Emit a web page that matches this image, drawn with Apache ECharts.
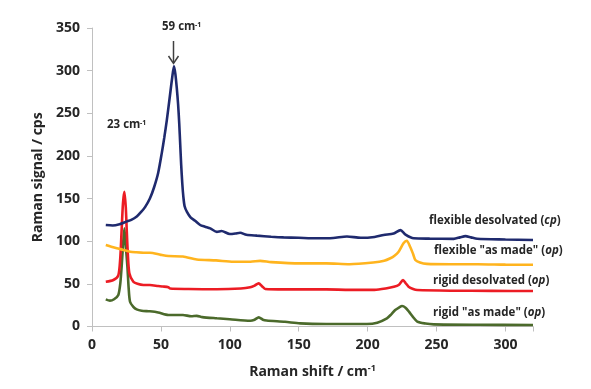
<!DOCTYPE html>
<html>
<head>
<meta charset="utf-8">
<script src="https://cdn.jsdelivr.net/npm/echarts@6/dist/echarts.min.js"></script>
<style>
html,body{margin:0;padding:0;background:#fff;}
#chart{width:591px;height:389px;}
</style>
</head>
<body>
<div id="chart"></div>
<script>
// Raman shift (cm-1), Raman signal (cps)
var flexibleDesolvated = [[10,119],[15,118.5],[20,120],[25,123],[28.5,125],[32.5,129],[35.5,134],[38.5,140],[42,150],[45,163],[48,180],[50.6,203],[52.5,222],[54.3,242],[56.5,270],[58.2,292],[59.5,305],[60.5,296],[61.5,280],[62.5,260],[63.3,238],[64,214],[64.7,190],[65.5,168],[66.3,152],[67.2,141],[69,134],[71.5,128],[74.8,124],[78.5,119],[82,117],[85.8,115],[90.6,111],[94,112],[100,108.4],[104,109],[107.5,110],[112,107.5],[119.7,106.5],[130,105.3],[139,104.5],[150,104],[163,103.4],[175,103.8],[185,105.5],[195,104],[205,105],[211.6,107.3],[218.9,109],[223.8,113],[227.5,107.8],[233.4,103.4],[245,103],[262.5,102.8],[267,104.5],[271,106],[275,104.5],[279.5,102.8],[300,102],[320,101.4]];
var flexibleAsMade = [[10,95.5],[14,93.5],[18,91.7],[22.8,89.8],[27.6,87.7],[32,87],[37.3,86.5],[42,86.5],[50,84],[55.4,82.6],[66,82],[76,78.5],[90,77.5],[102.6,76],[115,76],[122,77],[130,75.5],[151,74],[170,74],[187,73],[204,75],[212,77],[216.5,80],[219.5,83],[222.5,87.7],[226,97.5],[228.4,100.6],[231,93],[233,85],[234.6,78],[238,75],[243,73.4],[260,73],[280,73],[300,72.5],[320,72.4]];
var rigidDesolvated = [[10,52.5],[15.5,54.5],[19.1,60],[20.5,80],[21.5,113],[22.5,145],[23.5,158],[24.5,140],[25.2,113],[26,85],[27.1,62.5],[30,52.5],[33,50],[37.3,48.6],[42,48.6],[48,47.5],[51.6,46.9],[55.4,46],[56.7,44.5],[70,44],[90.6,43.6],[108,44.5],[114.8,46],[118,48],[120.9,50.6],[123.5,47],[125.7,44],[140,43.5],[170,43.5],[187,43],[205,43],[214,44.8],[219,46.5],[222.5,48.6],[225.7,54.5],[227.5,51],[229.7,46.7],[233,44],[236,42.8],[260,42],[290,41.8],[320,41.6]];
var rigidAsMade = [[10,31.8],[13,30.3],[16,32],[19.1,37],[20.5,50],[21.5,70],[22.5,95],[23.5,115],[24.5,95],[25.7,70],[26.6,45],[27.6,29],[30,23],[32.4,20],[36,18.5],[42,17.8],[48,16.5],[55.4,13.5],[60,13.5],[66,13.5],[72,12],[76,12.5],[80,11],[90.6,9.6],[100,8.5],[114.8,6.8],[118,8],[121,10.7],[124,8],[126.7,7],[140,5.5],[151,3.7],[170,3],[187,3],[199.5,2.9],[207,4.5],[214,9.6],[217,14],[220,19.3],[223,22.5],[225,24],[227.5,22],[230,17.4],[233,11],[236,5.7],[242,3.5],[248,2.5],[280,2],[320,1.8]];

var seriesNames = ['flexible desolvated (cp)', 'flexible "as made" (op)', 'rigid desolvated (op)', 'rigid "as made" (op)'];
var seriesLabelParts = [['flexible desolvated (', 'cp', ')'], ['flexible "as made" (', 'op', ')'], ['rigid desolvated (', 'op', ')'], ['rigid "as made" (', 'op', ')']];
var seriesColors = ['#1f2a6e', '#ffb41e', '#ec1c24', '#4b6a2b'];
var xTicks = [0, 50, 100, 150, 200, 250, 300];
var yTicks = [0, 50, 100, 150, 200, 250, 300, 350];

var chart = echarts.init(document.getElementById('chart'), null, {renderer: 'canvas'});
var FONT = '"Open Sans", "DejaVu Sans", sans-serif';
var dataSets = [flexibleDesolvated, flexibleAsMade, rigidDesolvated, rigidAsMade];

function mkSeries(i) {
  return {
    type: 'line', name: seriesNames[i], data: dataSets[i],
    showSymbol: false, smooth: 0.25,
    lineStyle: {color: seriesColors[i], width: 2.6},
    itemStyle: {color: seriesColors[i]},
    z: 10 - i
  };
}

var richLbl = {
  n: {fontFamily: FONT, fontWeight: 'bold', fontSize: 11.5, fill: '#262626', color: '#262626'},
  i: {fontFamily: FONT, fontWeight: 'bold', fontStyle: 'italic', fontSize: 11.5, fill: '#262626', color: '#262626'}
};
function seriesLabel(i, left, top) {
  var p = seriesLabelParts[i];
  return {type: 'text', left: left, top: top,
    style: {text: '{n|' + p[0] + '}{i|' + p[1] + '}{n|' + p[2] + '}', rich: richLbl}};
}

chart.setOption({
  animation: false,
  backgroundColor: '#ffffff',
  grid: {left: 92, right: 58, top: 28, bottom: 62.5, containLabel: false},
  xAxis: {
    type: 'value', min: 0, max: 320, interval: 50,
    name: 'Raman shift / cm{sup|-1}', nameLocation: 'middle', nameGap: 37,
    nameTextStyle: {fontFamily: FONT, fontWeight: 'bold', fontSize: 14, color: '#262626',
      rich: {sup: {fontSize: 9, fontWeight: 'bold', fontFamily: FONT, color: '#262626', verticalAlign: 'top', padding: [0,0,8,0]}}},
    axisLine: {lineStyle: {color: '#c0c0c0', width: 1}},
    axisTick: {show: true, length: 5, lineStyle: {color: '#c0c0c0'}},
    axisLabel: {fontFamily: FONT, fontWeight: 'bold', fontSize: 14, color: '#262626', margin: 12,
      formatter: function (v) { return xTicks.indexOf(v) >= 0 ? String(v) : ''; }},
    splitLine: {show: false}
  },
  yAxis: {
    type: 'value', min: 0, max: 350, interval: 50,
    name: 'Raman signal / cps', nameLocation: 'middle', nameGap: 46,
    nameTextStyle: {fontFamily: FONT, fontWeight: 'bold', fontSize: 14, color: '#262626'},
    axisLine: {show: true, lineStyle: {color: '#c0c0c0', width: 1}},
    axisTick: {show: true, length: 5, lineStyle: {color: '#c0c0c0'}},
    axisLabel: {fontFamily: FONT, fontWeight: 'bold', fontSize: 14, color: '#262626', margin: 12,
      formatter: function (v) { return yTicks.indexOf(v) >= 0 ? String(v) : ''; }},
    splitLine: {show: false}
  },
  series: [mkSeries(0), mkSeries(1), mkSeries(2), mkSeries(3)],
  graphic: [
    seriesLabel(0, 429, 215),
    seriesLabel(1, 434, 245),
    seriesLabel(2, 433, 275),
    seriesLabel(3, 433, 307),
    {type: 'text', left: 162, top: 21, style: {text: '59 cm', font: 'bold 11.5px ' + FONT, fill: '#262626'}},
    {type: 'text', left: 195, top: 21, style: {text: '-1', font: 'bold 7px ' + FONT, fill: '#262626'}},
    {type: 'text', left: 107, top: 119, style: {text: '23 cm', font: 'bold 11.5px ' + FONT, fill: '#262626'}},
    {type: 'text', left: 140, top: 119, style: {text: '-1', font: 'bold 7px ' + FONT, fill: '#262626'}},
    {type: 'line', shape: {x1: 173.5, y1: 41, x2: 173.5, y2: 63}, style: {stroke: '#404040', lineWidth: 1.5}},
    {type: 'polyline', shape: {points: [[168.5, 56], [173.5, 63.5], [178.5, 56]]}, style: {stroke: '#404040', lineWidth: 1.5, fill: null}}
  ]
});
</script>
</body>
</html>
